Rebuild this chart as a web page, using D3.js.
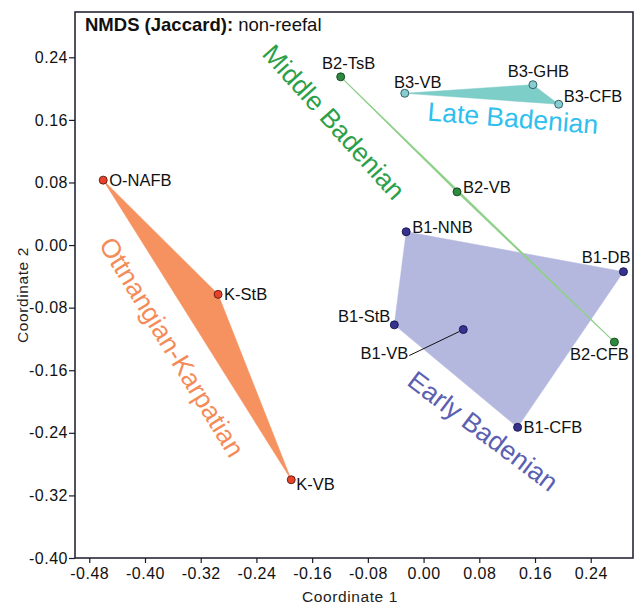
<!DOCTYPE html>
<html lang="en">
<head>
  <meta charset="UTF-8">
  <title>NMDS (Jaccard): non-reefal</title>
  <style>
    body { margin: 0; background: #fff; }
    svg text { font-family: "Liberation Sans", Arial, Helvetica, sans-serif; }
  </style>
</head>
<body>
  <script src="https://cdn.jsdelivr.net/npm/d3@7"></script>
  <script>
  // site scores
  var sites  = ['O-NAFB', 'K-StB', 'K-VB',
                'B1-NNB', 'B1-DB', 'B1-StB', 'B1-VB', 'B1-CFB',
                'B2-TsB', 'B2-VB', 'B2-CFB',
                'B3-VB', 'B3-GHB', 'B3-CFB'];
  var coord1 = [-0.460, -0.295, -0.190,
                -0.025, 0.287, -0.042, 0.057, 0.135,
                -0.119, 0.048, 0.274,
                -0.027, 0.157, 0.194];
  var coord2 = [0.083, -0.063, -0.300,
                0.017, -0.034, -0.102, -0.108, -0.233,
                0.215, 0.068, -0.124,
                0.194, 0.205, 0.180];
  var group  = ['OK', 'OK', 'OK',
                'B1', 'B1', 'B1', 'B1', 'B1',
                'B2', 'B2', 'B2',
                'B3', 'B3', 'B3'];

  var groupKeys  = ['OK', 'B1', 'B2', 'B3'];
  var groupNames = ['Ottnangian-Karpatian', 'Early Badenian', 'Middle Badenian', 'Late Badenian'];

  var xTicks = [-0.48, -0.40, -0.32, -0.24, -0.16, -0.08, 0.00, 0.08, 0.16, 0.24];
  var yTicks = [-0.40, -0.32, -0.24, -0.16, -0.08, 0.00, 0.08, 0.16, 0.24];

  // styling
  var hullFill  = { OK: '#f5925f', B1: '#b4b8de', B2: '#8fd08a', B3: '#7dcdc8' };
  var dotFill   = { OK: '#e8432a', B1: '#37328f', B2: '#2e8a3e', B3: '#86cdd2' };
  var dotStroke = { OK: '#5a1a10', B1: '#15124a', B2: '#143f1c', B3: '#2b5458' };
  var textCol   = { OK: '#f48b58', B1: '#5b60b2', B2: '#2ba048', B3: '#2fc0ee' };
  // group label: centre in px and rotation
  var groupLab  = { OK: [172, 347, 58.5], B1: [483, 431, 37], B2: [334, 122, 48], B3: [513, 118, 4.5] };
  // site label offsets [dx, dy, anchor]
  var labOff = {
    'O-NAFB': [6, 0, 'start'], 'K-StB': [6, 0, 'start'], 'K-VB': [5, 4, 'start'],
    'B1-NNB': [6, -5, 'start'], 'B1-DB': [7, -14, 'end'], 'B1-StB': [-4, -9, 'end'],
    'B1-VB': [-55, 24, 'end'], 'B1-CFB': [6, 0, 'start'],
    'B2-TsB': [8, -14, 'middle'], 'B2-VB': [6, -5, 'start'], 'B2-CFB': [-15, 12, 'middle'],
    'B3-VB': [13, -11, 'middle'], 'B3-GHB': [5.5, -13, 'middle'], 'B3-CFB': [5, -8, 'start']
  };

  var W = 634, H = 605;
  var m = { top: 12, right: 1, bottom: 47, left: 75 };
  var iw = W - m.left - m.right, ih = H - m.top - m.bottom;

  var x = d3.scaleLinear().domain([-0.5005, 0.3007]).range([0, iw]);
  var y = d3.scaleLinear().domain([-0.40, 0.2979]).range([ih, 0]);

  var svg = d3.select('body').append('svg').attr('width', W).attr('height', H);
  var g = svg.append('g').attr('transform', 'translate(' + m.left + ',' + m.top + ')');

  var pts = sites.map(function (s, i) {
    return { name: s, g: group[i], px: x(coord1[i]), py: y(coord2[i]) };
  });

  // convex hulls
  groupKeys.forEach(function (k) {
    var hull = d3.polygonHull(pts.filter(function (p) { return p.g === k; })
      .map(function (p) { return [p.px, p.py]; }));
    g.append('path')
      .attr('d', 'M' + hull.join('L') + 'Z')
      .attr('fill', hullFill[k])
      .attr('stroke', hullFill[k])
      .attr('stroke-width', k === 'B2' ? 1.1 : 0.5)
      .attr('stroke-linejoin', 'round');
  });

  // group names
  groupKeys.forEach(function (k, i) {
    var l = groupLab[k];
    g.append('text')
      .attr('transform', 'translate(' + (l[0] - m.left) + ',' + (l[1] - m.top) + ') rotate(' + l[2] + ')')
      .attr('text-anchor', 'middle')
      .attr('dy', '0.35em')
      .attr('font-size', 26.5)
      .attr('fill', textCol[k])
      .text(groupNames[i]);
  });

  // leader for B1-VB
  var vb = pts[sites.indexOf('B1-VB')];
  g.append('line')
    .attr('x1', vb.px + labOff['B1-VB'][0] + 1).attr('y1', vb.py + labOff['B1-VB'][1] + 2)
    .attr('x2', vb.px - 4).attr('y2', vb.py + 2)
    .attr('stroke', '#111').attr('stroke-width', 1);

  // points
  g.selectAll('circle.site').data(pts).enter().append('circle')
    .attr('class', 'site')
    .attr('cx', function (d) { return d.px; })
    .attr('cy', function (d) { return d.py; })
    .attr('r', 4)
    .attr('fill', function (d) { return dotFill[d.g]; })
    .attr('stroke', function (d) { return dotStroke[d.g]; })
    .attr('stroke-width', 0.9);

  g.selectAll('text.site').data(pts).enter().append('text')
    .attr('class', 'site')
    .attr('x', function (d) { return d.px + labOff[d.name][0]; })
    .attr('y', function (d) { return d.py + labOff[d.name][1]; })
    .attr('dy', '0.35em')
    .attr('text-anchor', function (d) { return labOff[d.name][2]; })
    .attr('font-size', 16.5)
    .attr('fill', '#111')
    .text(function (d) { return d.name; });

  // frame
  g.append('rect').attr('width', iw).attr('height', ih)
    .attr('fill', 'none').attr('stroke', '#1a1a2a').attr('stroke-width', 1.5);

  // axes (plain hyphen for negatives)
  var fmt = function (v) { return d3.format('.2f')(v).replace('\u2212', '-'); };
  var xa = g.append('g').attr('transform', 'translate(0,' + ih + ')')
    .call(d3.axisBottom(x).tickValues(xTicks).tickFormat(fmt).tickSize(5).tickSizeOuter(0));
  var ya = g.append('g')
    .call(d3.axisLeft(y).tickValues(yTicks).tickFormat(fmt).tickSize(6).tickSizeOuter(0));
  [xa, ya].forEach(function (a) {
    a.select('.domain').remove();
    a.selectAll('line').attr('stroke', '#1a1a2a').attr('stroke-width', 1.2);
    a.selectAll('text').attr('font-size', 16).attr('fill', '#111')
      .attr('letter-spacing', 0.5)
      .style('font-family', '"Liberation Sans", Arial, sans-serif');
  });
  xa.selectAll('text').attr('y', 21).attr('dy', 0);
  ya.selectAll('text').attr('x', -7);

  svg.append('text').attr('x', 350).attr('y', 601.5)
    .attr('text-anchor', 'middle').attr('font-size', 15.5).attr('letter-spacing', 0.6)
    .attr('fill', '#222')
    .text('Coordinate 1');
  svg.append('text').attr('transform', 'translate(28,295) rotate(-90)')
    .attr('text-anchor', 'middle').attr('font-size', 15.5).attr('letter-spacing', 0.6)
    .attr('fill', '#222')
    .text('Coordinate 2');

  // title
  var t = svg.append('text').attr('x', 85).attr('y', 31).attr('font-size', 18.5).attr('fill', '#111');
  t.append('tspan').attr('font-weight', 'bold').text('NMDS (Jaccard):');
  t.append('tspan').text(' non-reefal');
  </script>
</body>
</html>
